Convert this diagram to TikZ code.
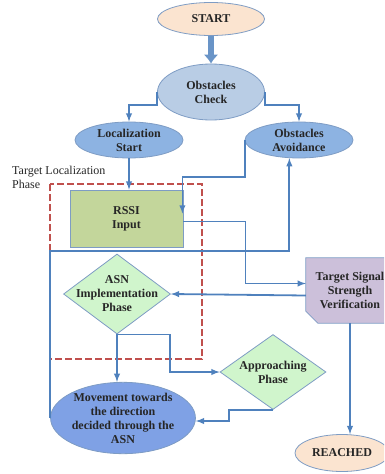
\documentclass[tikz,border=0pt]{standalone}
\usepackage{xcolor}
\usepackage{fontspec}
\setmainfont{Liberation Serif}
\usetikzlibrary{shapes.geometric, arrows.meta}
\definecolor{lineblue}{RGB}{79,129,189}
\definecolor{edgeblue}{RGB}{126,156,196}
\definecolor{peach}{RGB}{251,228,208}
\definecolor{paleblue}{RGB}{185,205,229}
\definecolor{midblue}{RGB}{141,179,226}
\definecolor{rssigreen}{RGB}{195,214,155}
\definecolor{palegreen}{RGB}{208,245,204}
\definecolor{lilac}{RGB}{204,192,218}
\definecolor{dashred}{RGB}{192,80,77}

\begin{document}
\begin{tikzpicture}[x=1pt, y=-1pt,
  txt/.style={font=\fontsize{12}{14}\selectfont\bfseries, align=center, text=black!85},
  oval/.style={ellipse, draw=edgeblue, line width=0.8pt, inner sep=0pt, txt},
  dia/.style={diamond, draw=edgeblue, line width=0.8pt, fill=palegreen, inner sep=0pt},
  flow/.style={draw=lineblue, line width=1.8pt, -latex},
  bigarrow/.style={draw=lineblue!85, line width=6pt, -{Latex[length=9pt,width=15pt]}}]
\useasboundingbox (0,0) rectangle (384,474);
\clip (0,0) rectangle (384,474);

\node[oval, fill=peach, minimum width=107, minimum height=33] (start) at (211,19) {START};
\node[oval, fill=paleblue, minimum width=107, minimum height=56] (check) at (211,92) {Obstacles\\Check};
\node[oval, fill=midblue, minimum width=108, minimum height=36] (loc) at (129,140) {Localization\\Start};
\node[oval, fill=midblue, minimum width=108, minimum height=36] (avoid) at (299,140) {Obstacles\\Avoidance};
\node[rectangle, draw=edgeblue, line width=0.8pt, fill=rssigreen, minimum width=113, minimum height=57, txt] (rssi) at (126.5,218.5) {RSSI\\Input};

\node[dia, minimum width=107, minimum height=80] (asn) at (117,294) {};
\node[txt] at (asn) {ASN\\Implementation\\Phase};
\node[dia, minimum width=106, minimum height=75] (approach) at (273,372) {};
\node[txt] at (approach) {Approaching\\Phase};
\node[oval, fill=midblue!90!blue, minimum width=133, minimum height=70] (mov) at (123,418) {Movement towards\\the direction\\decided through the\\ASN};

\node[rectangle, minimum width=88, minimum height=65, txt] (tssv) at (350,290.5) {Target Signal\\Strength\\Verification};
\draw[draw=edgeblue, line width=0.8pt, fill=lilac] (tssv.north west) -- (tssv.north east) -- (tssv.south east)
  -- ([xshift=12pt]tssv.south west) -- ([yshift=12pt]tssv.south west) -- cycle;
\node[txt] at (tssv) {Target Signal\\Strength\\Verification};
\node[oval, fill=peach, minimum width=94, minimum height=37] (reached) at (342,453) {REACHED};

\draw[dashred, line width=2.5pt, dash pattern=on 7pt off 3pt] (50,184) rectangle (202,359);
\node[font=\fontsize{12}{14}\selectfont, align=left, anchor=north west, inner sep=0pt, text=black!85] (phaselbl) at (12,166) {Target Localization\\Phase};

\draw[bigarrow] (start) -- (check);
\draw[flow] (check.west) -- ++(0,13) -| (loc.north);
\draw[flow] (check.east) -- ++(0,13) -| (avoid.north);
\draw[flow] (loc.south) -- (loc.south |- rssi.north);
\draw[flow] (avoid.west) -- ++(0,37) -| ([shift={(-1pt,5pt)}]rssi.east);
\draw[flow] (mov.west) -- ++(0,-167) -| (avoid.242);
\draw[flow] ([yshift=-3pt]rssi.east) -- ++(62,0) |- ([yshift=7pt]tssv.west);
\draw[flow] ([yshift=-5pt]tssv.west) -- (asn.east);
\draw[flow] (asn.south) -- (asn.south |- mov.north);
\draw[flow] (asn.south) -- ++(53,0) |- (approach.west);
\draw[flow] (approach.south) -- ++(-44,0) |- ([yshift=-3pt]mov.east);
\draw[flow] (tssv.south) -- (tssv.south |- reached.north);
\end{tikzpicture}
\end{document}
